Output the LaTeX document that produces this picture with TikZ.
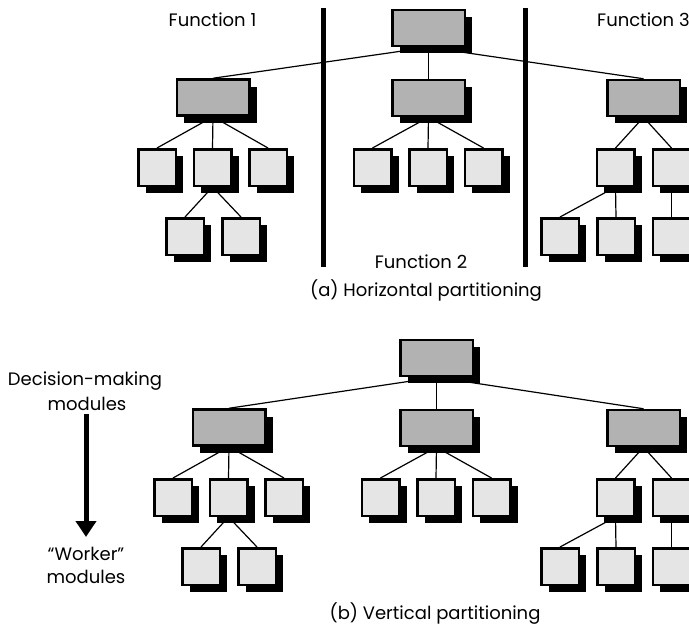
\documentclass[tikz,border=0pt]{standalone}
\usepackage{fontspec}
\setmainfont{Poppins}
\usetikzlibrary{shadows,backgrounds,arrows.meta}
\definecolor{boxdark}{RGB}{178,178,178}
\definecolor{boxlight}{RGB}{229,229,229}
\tikzset{
  modbox/.style={draw=black, line width=2.5pt, inner sep=0pt,
    drop shadow={shadow xshift=7.5pt, shadow yshift=-7pt, opacity=1, fill=black}},
  bigbox/.style={modbox, fill=boxdark, minimum width=72.5pt, minimum height=36pt},
  smallbox/.style={modbox, fill=boxlight, minimum width=37.5pt, minimum height=36.5pt},
  conn/.style={line width=1.2pt, black},
  lbl/.style={inner sep=0pt, anchor=base, font=\fontsize{18}{21}\selectfont},
  bar/.style={line width=5pt, black}
}
\newcommand\drawmodtree[5]{%
  % #1 prefix, #2 dy, #3 dx left, #4 dx middle, #5 dx right
  \node[bigbox] (#1r) at (428.5+#4, 28+#2) {};
  \node[bigbox] (#1a) at (213+#3, 97.5+#2) {};
  \node[bigbox] (#1b) at (428.5+#4, 98+#2) {};
  \node[bigbox] (#1c) at (643.5+#5, 98+#2) {};
  \node[smallbox] (#1a1) at (157+#3, 167.5+#2) {};
  \node[smallbox] (#1a2) at (212.5+#3, 167.5+#2) {};
  \node[smallbox] (#1a3) at (268+#3, 167.5+#2) {};
  \node[smallbox] (#1a21) at (185+#3, 236.5+#2) {};
  \node[smallbox] (#1a22) at (241+#3, 236.5+#2) {};
  \node[smallbox] (#1b1) at (372.5+#4, 167.5+#2) {};
  \node[smallbox] (#1b2) at (428+#4, 167.5+#2) {};
  \node[smallbox] (#1b3) at (483.5+#4, 167.5+#2) {};
  \node[smallbox] (#1c1) at (615.5+#5, 167.5+#2) {};
  \node[smallbox] (#1c2) at (671.5+#5, 167.5+#2) {};
  \node[smallbox] (#1c11) at (560+#5, 236.5+#2) {};
  \node[smallbox] (#1c12) at (616+#5, 236.5+#2) {};
  \node[smallbox] (#1c21) at (671.5+#5, 236.5+#2) {};
  \begin{scope}[on background layer]
    \foreach \p/\c in {r/a,r/b,r/c,a/a1,a/a2,a/a3,a2/a21,a2/a22,b/b1,b/b2,b/b3,c/c1,c/c2,c1/c11,c1/c12,c2/c21}
      \draw[conn] (#1\p.south) -- (#1\c.north);
  \end{scope}
}
\begin{document}
\begin{tikzpicture}[x=1pt, y=-1pt]
  \useasboundingbox (0,0) rectangle (689,629);
  \clip (0,0) rectangle (689,629);
  % (a) horizontal partitioning
  \drawmodtree{t}{0}{0}{0}{0}
  \draw[bar] (323,8) -- (323,267);
  \draw[bar] (525,8) -- (525,267);
  \node[lbl] (f1) at (212.5,27) {Function 1};
  \node[lbl] (f2) at (421,268) {Function 2};
  \node[lbl, anchor=base west] (f3) at (597,27) {Function 3};
  \node[lbl] (capa) at (426,296) {(a) Horizontal partitioning};
  % (b) vertical partitioning
  \drawmodtree{v}{330}{16}{8}{0}
  \node[lbl] (dm1) at (85,385) {Decision-making};
  \node[lbl] (dm2) at (87,410) {modules};
  \node[lbl] (wk1) at (86,560) {“Worker”};
  \node[lbl] (wk2) at (86,583) {modules};
  \coordinate (arrtop) at (86,414);
  \coordinate (arrbot) at (86,537);
  \draw[line width=5pt, -{Triangle[width=20pt,length=16pt]}] (arrtop) -- (arrbot);
  \node[lbl] (capb) at (435,619) {(b) Vertical partitioning};
\end{tikzpicture}
\end{document}
